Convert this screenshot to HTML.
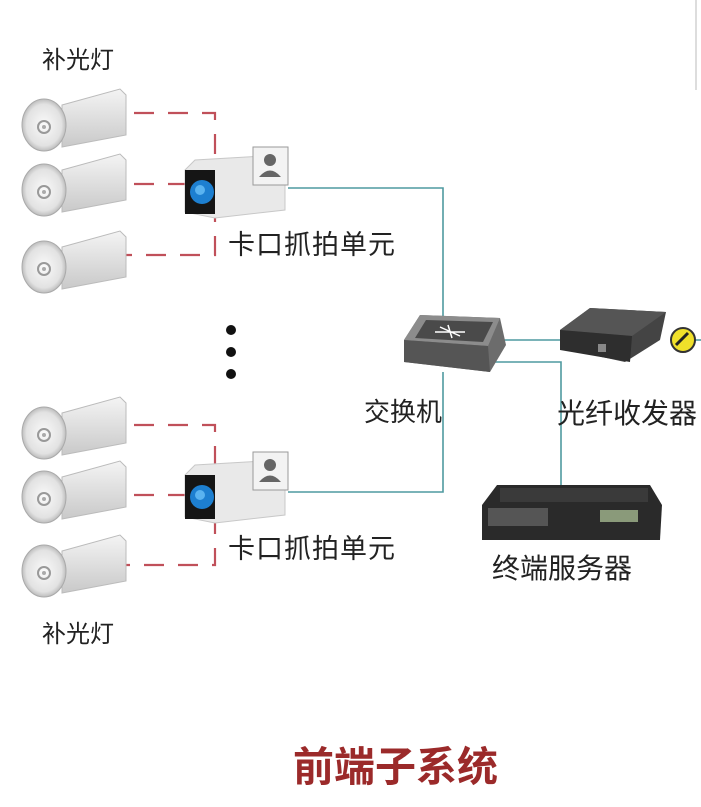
<!DOCTYPE html>
<html><head><meta charset="utf-8"><style>
body{margin:0;background:#fff;width:701px;height:802px;overflow:hidden}
text{font-family:"Liberation Sans","Noto Sans CJK SC",sans-serif}
</style></head><body>
<svg width="701" height="802" viewBox="0 0 701 802" xmlns="http://www.w3.org/2000/svg">
<defs>
<linearGradient id="lb" x1="0" y1="0" x2="0" y2="1"><stop offset="0" stop-color="#f4f4f4"/><stop offset="1" stop-color="#c9c9c9"/></linearGradient>
<radialGradient id="dish" cx="0.5" cy="0.5" r="0.5"><stop offset="0" stop-color="#fafafa"/><stop offset="0.8" stop-color="#e2e2e2"/><stop offset="1" stop-color="#bdbdbd"/></radialGradient>
<g id="lamp">
<path d="M18,-20 L76,-36 L82,-30 L82,10 L18,22 Z" fill="url(#lb)" stroke="#bbb" stroke-width="1"/>
<ellipse cx="0" cy="0" rx="22" ry="26" fill="url(#dish)" stroke="#aaa"/>
<circle cx="0" cy="2" r="6" fill="none" stroke="#999" stroke-width="2"/>
<circle cx="0" cy="2" r="2" fill="#aaa"/>
</g>
<g id="cam">
<path d="M0,10 L10,0 L95,-5 L100,5 L100,50 L30,58 L0,52 Z" fill="#e9e9e9" stroke="#c8c8c8"/>
<rect x="0" y="10" width="30" height="44" fill="#151515"/>
<circle cx="17" cy="32" r="12" fill="#1d7fd0"/>
<circle cx="15" cy="30" r="5" fill="#5ab3f0"/>
<rect x="68" y="-13" width="35" height="38" fill="#f3f3f3" stroke="#999"/>
<circle cx="85" cy="0" r="6" fill="#666"/>
<path d="M74,17 Q85,4 96,17 Z" fill="#666"/>
</g>
</defs>
<line x1="696" y1="0" x2="696" y2="90" stroke="#ddd" stroke-width="2"/>
<text x="42" y="68" font-size="24" fill="#222">补光灯</text>
<g stroke="#c0505a" stroke-width="2.2" stroke-dasharray="20,14" fill="none">
<path d="M100,113 H215 V255 H100"/>
<path d="M100,184 H185"/>
<path d="M100,425 H215 V565 H100"/>
<path d="M100,495 H185"/>
</g>
<use href="#lamp" x="44" y="125"/>
<use href="#lamp" x="44" y="190"/>
<use href="#lamp" x="44" y="267"/>
<use href="#lamp" x="44" y="433"/>
<use href="#lamp" x="44" y="497"/>
<use href="#lamp" x="44" y="571"/>
<g stroke="#4f9aa0" stroke-width="1.6" fill="none">
<path d="M288,188 H443 V320"/>
<path d="M288,492 H443 V372"/>
<path d="M500,340 H560"/>
<path d="M490,362 H561 V488"/>
<path d="M695,340 H701"/>
</g>
<use href="#cam" x="185" y="160"/>
<use href="#cam" x="185" y="465"/>
<text x="228" y="254" font-size="27" letter-spacing="1" fill="#222">卡口抓拍单元</text>
<text x="228" y="558" font-size="27" letter-spacing="1" fill="#222">卡口抓拍单元</text>
<circle cx="231" cy="330" r="5" fill="#111"/>
<circle cx="231" cy="352" r="5" fill="#111"/>
<circle cx="231" cy="374" r="5" fill="#111"/>
<!-- switch -->
<path d="M404,340 L420,315 L500,318 L506,345 L490,372 L404,362 Z" fill="#6c6c6c"/>
<path d="M404,340 L420,315 L500,318 L488,346 Z" fill="#8c8c8c"/>
<path d="M415,338 L426,320 L493,322 L483,342 Z" fill="#4a4a4a"/>
<path d="M404,340 L488,346 L490,372 L404,362 Z" fill="#555"/>
<g stroke="#fff" stroke-width="1.5" fill="none"><path d="M440,327 L460,336 M448,325 L452,338 M435,332 L465,332"/></g>
<text x="364" y="421" font-size="26" fill="#222">交换机</text>
<!-- transceiver -->
<path d="M560,330 L590,308 L666,312 L660,340 L625,362 L560,348 Z" fill="#444"/>
<path d="M560,330 L590,308 L666,312 L632,336 Z" fill="#555"/>
<path d="M560,330 L632,336 L630,362 L560,350 Z" fill="#2e2e2e"/>
<rect x="598" y="344" width="8" height="8" fill="#888"/>
<circle cx="683" cy="340" r="12" fill="#f0e02a" stroke="#333" stroke-width="2"/>
<path d="M676,345 L688,333" stroke="#222" stroke-width="3"/>
<text x="557" y="423" font-size="28" fill="#222">光纤收发器</text>
<!-- server -->
<path d="M482,505 L497,485 L650,485 L662,505 L660,540 L482,540 Z" fill="#2a2a2a"/>
<rect x="500" y="488" width="148" height="14" fill="#3a3a3a"/>
<rect x="488" y="508" width="60" height="18" fill="#555"/>
<rect x="600" y="510" width="38" height="12" fill="#8a9a7a"/>
<text x="492" y="578" font-size="28" fill="#222">终端服务器</text>
<text x="42" y="642" font-size="24" fill="#222">补光灯</text>
<text x="293" y="781" font-size="41" font-weight="bold" fill="#9b2a2a">前端子系统</text>
</svg>
</body></html>
